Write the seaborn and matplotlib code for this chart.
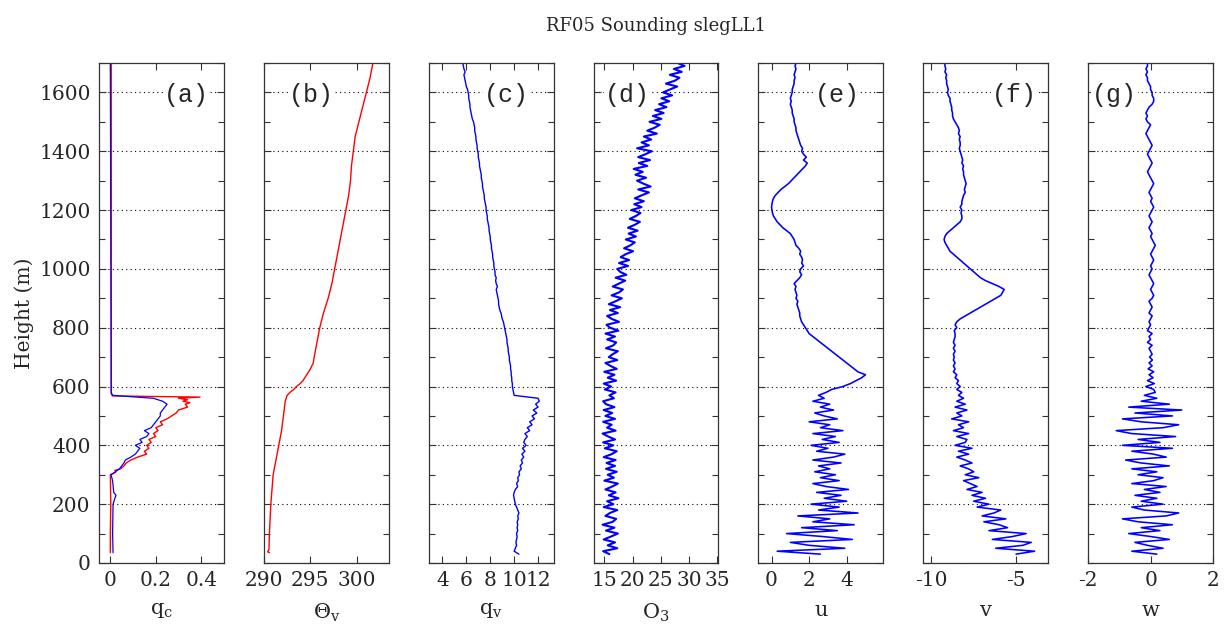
import numpy as np
import matplotlib
matplotlib.use("Agg")
import matplotlib.pyplot as plt
import seaborn as sns
from matplotlib.ticker import MultipleLocator, FixedLocator

# ---------------- data ----------------
TITLE = "RF05 Sounding slegLL1"

# (a) cloud water q_c : two profiles (red, blue)
QC_RED_Z = [1700, 575, 568, 564, 560, 555, 550, 545, 540, 530, 520, 510, 500, 490, 480, 470,
            460, 450, 440, 430, 420, 410, 400, 390, 380, 370, 360, 350, 340, 330, 320, 315,
            310, 305, 300, 200, 100, 35]
QC_RED = [0.004, 0.004, 0.01, 0.395, 0.30, 0.34, 0.32, 0.35, 0.33, 0.34, 0.30, 0.29, 0.27, 0.25,
          0.22, 0.23, 0.20, 0.21, 0.19, 0.20, 0.17, 0.18, 0.16, 0.17, 0.15, 0.16, 0.12, 0.09,
          0.07, 0.06, 0.045, 0.02, 0.025, 0.015, 0.0, 0.002, 0.0, 0.0]
QC_BLUE_Z = [1700, 580, 570, 565, 560, 550, 540, 530, 520, 510, 500, 490, 480, 470, 460, 450,
             440, 430, 420, 410, 400, 390, 380, 370, 360, 350, 340, 330, 320, 310, 300, 280,
             240, 230, 220, 200, 100, 35]
QC_BLUE = [0.0, 0.004, 0.01, 0.10, 0.19, 0.23, 0.25, 0.24, 0.23, 0.22, 0.22, 0.21, 0.20, 0.19,
           0.18, 0.15, 0.17, 0.16, 0.13, 0.14, 0.11, 0.13, 0.12, 0.11, 0.09, 0.066, 0.06, 0.05,
           0.04, 0.022, 0.003, 0.01, 0.015, 0.025, 0.02, 0.012, 0.01, 0.012]

# (b) virtual potential temperature
TH_Z = [35, 38, 45, 100, 200, 300, 350, 400, 450, 500, 550, 570, 580, 590, 600, 610, 620, 640,
        660, 680, 700, 750, 800, 850, 900, 950, 1000, 1050, 1100, 1150, 1200, 1250, 1300,
        1350, 1400, 1450, 1500, 1550, 1600, 1650, 1700]
THETA_V = [290.6, 290.4, 290.55, 290.6, 290.75, 291.0, 291.3, 291.6, 291.9, 292.1, 292.3, 292.5,
           292.8, 293.2, 293.5, 293.9, 294.2, 294.6, 295.0, 295.3, 295.4, 295.7, 296.0, 296.4,
           296.9, 297.3, 297.6, 297.9, 298.2, 298.5, 298.8, 299.1, 299.3, 299.4, 299.6, 299.8,
           300.2, 300.6, 301.0, 301.4, 301.7]

# common 10 m height grid for panels (c)-(g)
Z10 = list(range(30, 1701, 10))

QV = [10.4, 10.0, 10.1, 10.2, 10.15, 10.2, 10.25, 10.2, 10.3, 10.25,
      10.3, 10.25, 10.35, 10.3, 10.4, 10.3, 10.2, 10.1, 10.05, 10.0,
      9.95, 10.0, 10.1, 10.3, 10.2, 10.35, 10.3, 10.45, 10.4, 10.6,
      10.5, 10.7, 10.6, 10.8, 10.65, 10.9, 10.7, 11.0, 10.8, 10.9,
      11.1, 10.9, 11.3, 11.1, 11.5, 11.3, 11.7, 11.5, 11.9, 11.6,
      12.0, 11.8, 12.1, 12.0, 10.0, 9.95, 9.9, 9.85, 9.85, 9.8,
      9.8, 9.75, 9.75, 9.7, 9.7, 9.65, 9.6, 9.6, 9.55, 9.5,
      9.5, 9.45, 9.4, 9.4, 9.35, 9.3, 9.25, 9.2, 9.15, 9.1,
      9.0, 8.95, 8.9, 8.8, 8.75, 8.7, 8.7, 8.65, 8.6, 8.55,
      8.5, 8.6, 8.5, 8.45, 8.5, 8.4, 8.4, 8.35, 8.3, 8.3,
      8.25, 8.2, 8.2, 8.15, 8.1, 8.1, 8.05, 8.0, 8.0, 7.95,
      7.9, 7.9, 7.85, 7.8, 7.75, 7.75, 7.7, 7.65, 7.65, 7.6,
      7.55, 7.5, 7.5, 7.45, 7.4, 7.35, 7.35, 7.3, 7.25, 7.25,
      7.2, 7.15, 7.1, 7.1, 7.05, 7.0, 7.0, 6.95, 6.9, 6.9,
      6.85, 6.8, 6.8, 6.75, 6.7, 6.7, 6.65, 6.6, 6.5, 6.45,
      6.4, 6.35, 6.3, 6.3, 6.25, 6.2, 6.2, 6.15, 6.1, 6.0,
      5.95, 5.9, 5.85, 5.8, 5.9, 5.8, 5.75, 5.7]

O3 = [15.9, 14.8, 17.3, 15.6, 16.9, 14.9, 16.2, 17.4, 15.3, 16.8,
      14.7, 16.5, 17.1, 15.2, 16.0, 17.3, 14.9, 16.6, 15.5, 17.5,
      15.8, 17.0, 15.2, 16.4, 17.4, 15.0, 16.7, 15.6, 17.2, 15.3,
      16.9, 15.4, 17.0, 14.9, 16.3, 17.2, 15.1, 16.6, 14.8, 16.9,
      15.7, 14.7, 17.0, 15.5, 16.3, 14.8, 16.9, 15.2, 16.4, 14.9,
      16.8, 15.3, 14.8, 16.7, 15.9, 17.0, 15.1, 16.2, 14.9, 17.1,
      15.6, 16.8, 15.0, 17.2, 16.1, 15.2, 17.3, 15.8, 16.5, 17.4,
      15.3, 16.6, 17.1, 15.5, 16.9, 15.2, 17.5, 16.0, 15.4, 17.6,
      16.3, 15.5, 17.4, 16.0, 17.8, 15.8, 17.0, 18.1, 16.3, 17.6,
      18.3, 16.5, 17.6, 18.7, 17.0, 18.9, 17.8, 17.3, 19.2, 17.6,
      19.4, 17.9, 18.8, 20.1, 18.5, 19.6, 20.4, 18.8, 20.6, 19.3,
      20.9, 19.2, 20.4, 21.3, 19.5, 20.6, 21.4, 19.8, 21.6, 20.3,
      22.0, 20.4, 21.6, 22.9, 21.0, 23.2, 21.9, 20.8, 22.4, 20.5,
      21.8, 20.2, 22.6, 21.1, 23.1, 21.0, 22.3, 23.4, 20.8, 22.9,
      21.6, 23.3, 22.0, 24.3, 22.6, 23.9, 24.8, 23.0, 25.1, 23.6,
      25.5, 24.0, 26.0, 24.7, 26.5, 25.1, 27.0, 25.4, 26.6, 27.9,
      25.9, 27.5, 28.3, 26.6, 28.7, 27.3, 29.2, 28.0]

U = [2.6, 0.3, 3.9, 2.0, 1.0, 4.3, 2.7, 0.8, 3.5, 1.6,
     4.4, 2.2, 3.1, 1.4, 4.6, 2.5, 3.6, 2.1, 4.0, 2.8,
     3.7, 2.4, 4.1, 2.9, 2.2, 3.6, 2.6, 3.4, 2.3, 3.1,
     2.5, 3.7, 2.2, 3.3, 3.9, 2.4, 3.0, 2.1, 3.6, 2.7,
     3.4, 2.2, 3.8, 2.6, 3.1, 2.0, 3.5, 2.8, 2.3, 3.3,
     2.6, 3.1, 2.2, 2.8, 2.5, 2.9, 3.2, 3.8, 4.2, 4.5,
     4.8, 5.0, 4.6, 4.4, 4.2, 4.0, 3.8, 3.6, 3.4, 3.2,
     3.0, 2.8, 2.6, 2.4, 2.2, 2.0, 1.9, 1.8, 1.7, 1.6,
     1.55, 1.5, 1.5, 1.45, 1.4, 1.35, 1.4, 1.3, 1.35, 1.3,
     1.25, 1.3, 1.2, 1.35, 1.5, 1.6, 1.5, 1.55, 1.7, 1.6,
     1.65, 1.6, 1.5, 1.55, 1.45, 1.3, 1.25, 1.2, 1.1, 1.0,
     0.8, 0.6, 0.45, 0.3, 0.2, 0.1, 0.05, 0.02, 0.0, 0.02,
     0.05, 0.1, 0.2, 0.35, 0.5, 0.7, 0.9, 1.05, 1.2, 1.35,
     1.5, 1.65, 1.8, 1.9, 1.7, 1.85, 1.7, 1.6, 1.65, 1.55,
     1.5, 1.45, 1.4, 1.35, 1.3, 1.3, 1.25, 1.2, 1.2, 1.15,
     1.1, 1.1, 1.05, 1.0, 1.05, 1.0, 1.05, 1.1, 1.1, 1.15,
     1.2, 1.2, 1.25, 1.2, 1.25, 1.3, 1.25, 1.3]

V = [-5.0, -3.9, -6.2, -4.6, -4.1, -6.4, -5.2, -4.4, -6.6, -5.5,
     -6.0, -6.9, -5.6, -7.0, -6.3, -5.9, -7.3, -6.6, -7.5, -6.8,
     -7.6, -7.0, -7.9, -7.3, -7.7, -8.1, -7.2, -8.0, -7.5, -7.8,
     -8.3, -7.6, -8.0, -8.5, -7.8, -8.4, -7.6, -8.6, -8.0, -7.9,
     -8.5, -7.8, -8.7, -8.1, -8.4, -7.8, -8.8, -8.2, -8.5, -7.9,
     -8.6, -8.0, -8.5, -8.1, -8.4, -8.2, -8.5, -8.3, -8.5, -8.4,
     -8.6, -8.5, -8.7, -8.6, -8.7, -8.6, -8.7, -8.65, -8.7, -8.6,
     -8.7, -8.6, -8.7, -8.65, -8.6, -8.6, -8.65, -8.5, -8.6, -8.5,
     -8.3, -8.0, -7.7, -7.4, -7.1, -6.8, -6.5, -6.2, -5.9, -5.8,
     -5.7, -6.0, -6.4, -6.8, -7.1, -7.3, -7.5, -7.7, -7.9, -8.1,
     -8.3, -8.5, -8.7, -8.9, -9.0, -9.1, -9.2, -9.25, -9.2, -9.1,
     -8.9, -8.7, -8.5, -8.3, -8.2, -8.2, -8.25, -8.2, -8.3, -8.2,
     -8.2, -8.15, -8.1, -8.0, -8.05, -8.0, -7.95, -8.0, -8.05, -8.1,
     -8.1, -8.15, -8.1, -8.2, -8.15, -8.2, -8.25, -8.3, -8.35, -8.3,
     -8.3, -8.35, -8.3, -8.4, -8.35, -8.4, -8.5, -8.6, -8.7, -8.75,
     -8.75, -8.8, -8.8, -8.85, -8.9, -8.9, -9.0, -9.05, -9.0, -9.05,
     -9.1, -9.1, -9.15, -9.1, -9.2, -9.15, -9.2, -9.2]

W = [0.2, -0.6, 0.4, -0.1, -0.5, 0.6, 0.0, -0.7, 0.3, -0.3,
     0.7, -0.4, -0.9, 0.5, 0.9, -0.2, -0.6, 0.4, -0.3, 0.2,
     -0.5, 0.3, -0.2, 0.5, -0.6, 0.1, 0.4, -0.4, 0.2, -0.6,
     0.6, -0.3, -0.8, 0.5, 0.1, -0.6, 0.7, -0.9, 0.3, -0.4,
     0.8, -0.6, -1.1, 0.4, 0.9, -0.3, -0.9, 0.7, -0.5, 1.0,
     -0.7, 0.6, -0.3, 0.2, -0.2, 0.15, 0.1, -0.15, 0.12, -0.1,
     0.08, -0.05, 0.1, -0.08, 0.05, -0.05, 0.06, -0.03, 0.05, 0.0,
     -0.05, 0.05, -0.1, 0.0, -0.05, 0.05, -0.1, -0.05, 0.0, -0.05,
     0.0, 0.05, -0.05, 0.0, 0.05, 0.0, -0.05, 0.05, 0.1, 0.05,
     0.0, 0.05, 0.1, 0.05, 0.0, -0.05, 0.0, 0.05, 0.0, 0.05,
     0.1, 0.05, 0.0, 0.05, 0.1, 0.15, 0.1, 0.05, 0.0, 0.05,
     0.0, -0.05, 0.0, 0.05, 0.0, -0.05, 0.0, 0.05, 0.1, 0.05,
     0.0, 0.05, 0.0, -0.05, 0.0, 0.05, 0.1, 0.05, 0.0, -0.05,
     -0.1, -0.05, 0.0, 0.05, 0.0, -0.05, -0.1, -0.05, 0.0, 0.05,
     0.0, -0.05, -0.1, -0.15, -0.1, -0.05, 0.0, -0.1, -0.15, -0.1,
     -0.15, -0.1, -0.05, 0.05, 0.1, 0.1, 0.05, 0.05, 0.0, 0.0,
     -0.05, -0.1, -0.1, -0.15, -0.1, -0.15, -0.1, -0.1]

PANEL_TAGS = ["(a)", "(b)", "(c)", "(d)", "(e)", "(f)", "(g)"]
XLABELS = [r"$\mathrm{q}_\mathrm{c}$", r"$\Theta_\mathrm{v}$", r"$\mathrm{q}_\mathrm{v}$",
           r"$\mathrm{O}_3$", r"$\mathrm{u}$", r"$\mathrm{v}$", r"$\mathrm{w}$"]
XTICKS = [[0, 0.2, 0.4], [290, 295, 300], [4, 6, 8, 10, 12], [15, 20, 25, 30, 35],
          [0, 2, 4], [-10, -5], [-2, 0, 2]]
XTICKLABELS = [["0", "0.2", "0.4"], ["290", "295", "300"], ["4", "6", "8", "10", "12"],
               ["15", "20", "25", "30", "35"], ["0", "2", "4"], ["-10", "-5"], ["-2", "0", "2"]]
XLIMS = [(-0.05, 0.5), (290, 303.4), (2.85, 13.3), (13.1, 35.2), (-0.7, 5.95),
         (-10.48, -3.1), (-2, 2)]
TAG_POS = [0.70, 0.38, 0.62, 0.27, 0.63, 0.73, 0.21]

# ---------------- style ----------------
sns.set_theme(style="ticks")
plt.rcParams["font.family"] = ["DejaVu Serif"]
plt.rcParams["mathtext.fontset"] = "dejavuserif"

BLUE = "#0000ff"
RED = "#ff0000"

fig, axes = plt.subplots(1, 7, figsize=(12.31, 6.24), dpi=100, sharey=True)
fig.subplots_adjust(left=0.0804, right=0.9854, bottom=0.0978, top=0.899, wspace=0.32)

# panel (a)
sns.lineplot(x=QC_RED, y=QC_RED_Z, ax=axes[0], color=RED, lw=1.0, orient="y",
             sort=False, estimator=None)
sns.lineplot(x=QC_BLUE, y=QC_BLUE_Z, ax=axes[0], color=BLUE, lw=0.9, orient="y",
             sort=False, estimator=None)
# panel (b)
sns.lineplot(x=THETA_V, y=TH_Z, ax=axes[1], color=RED, lw=1.0, orient="y",
             sort=False, estimator=None)
# panels (c)-(g)
for ax, vals, lw in zip(axes[2:], [QV, O3, U, V, W], [1.0, 1.5, 1.15, 1.15, 1.15]):
    sns.lineplot(x=vals, y=Z10, ax=ax, color=BLUE, lw=lw, orient="y",
                 sort=False, estimator=None)

for i, ax in enumerate(axes):
    ax.set_ylim(0, 1700)
    ax.set_xlim(*XLIMS[i])
    ax.yaxis.set_major_locator(MultipleLocator(200))
    ax.yaxis.set_minor_locator(MultipleLocator(100))
    ax.xaxis.set_major_locator(FixedLocator(XTICKS[i]))
    ax.set_xticklabels(XTICKLABELS[i])
    ax.tick_params(which="both", direction="in", left=True, right=True, top=True,
                   bottom=True, color="#333333", labelsize=14.5, pad=6)
    ax.tick_params(which="major", length=5, width=0.8)
    ax.tick_params(which="minor", length=4, width=0.8)
    ax.grid(False)
    ax.yaxis.grid(True, which="major", linestyle=(0, (1, 3)), color="black", linewidth=0.8)
    for sp in ax.spines.values():
        sp.set_color("#333333")
        sp.set_linewidth(0.9)
    ax.set_xlabel(XLABELS[i], fontsize=15, labelpad=8)
    ax.text(TAG_POS[i], 0.936, PANEL_TAGS[i], transform=ax.transAxes, ha="center",
            va="center", fontsize=18, family="Liberation Mono",
            bbox=dict(facecolor="white", edgecolor="none", pad=0.5))
    if i > 0:
        ax.set_ylabel("")

axes[0].set_ylabel("Height (m)", fontsize=14.5, labelpad=4)
fig.suptitle(TITLE, x=0.533, y=0.972, fontsize=13)

fig.savefig("out.png", dpi=100)
